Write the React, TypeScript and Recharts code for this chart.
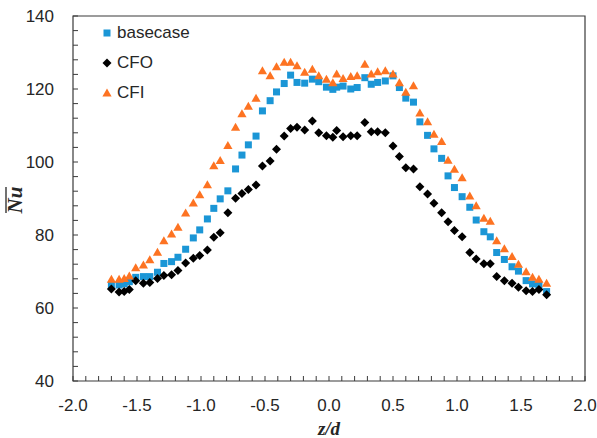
import React from "react";
import {
  ScatterChart,
  Scatter,
  XAxis,
  YAxis,
  ReferenceArea,
} from "recharts";

// z/d positions shared by the three series
const zValues = [
  -1.70, -1.64, -1.60, -1.56, -1.51, -1.45, -1.40, -1.34, -1.29, -1.23,
  -1.18, -1.12, -1.06, -1.01, -0.95, -0.90, -0.85, -0.79, -0.73, -0.68,
  -0.63, -0.57, -0.52, -0.46, -0.41, -0.35, -0.30, -0.25, -0.19, -0.13,
  -0.08, -0.02, 0.03, 0.06, 0.11, 0.17, 0.22, 0.28, 0.33, 0.38,
  0.44, 0.50, 0.55, 0.60, 0.66, 0.71, 0.77, 0.82, 0.88, 0.93,
  0.98, 1.04, 1.10, 1.15, 1.21, 1.26, 1.31, 1.37, 1.43, 1.48,
  1.54, 1.59, 1.64, 1.70,
];

const basecaseNu = [
  66.3, 66.3, 66.6, 67.2, 68.4, 68.6, 68.6, 69.8, 72.2, 72.7,
  73.9, 76.1, 79.2, 81.4, 84.4, 87.3, 89.9, 92.1, 98.1, 101.9,
  104.7, 107.1, 114.0, 116.8, 119.2, 121.5, 123.8, 121.8, 121.6, 122.7,
  122.0, 120.5, 119.9, 120.5, 120.8, 120.0, 120.4, 123.1, 121.3, 121.8,
  122.2, 123.6, 120.4, 117.5, 116.4, 111.0, 107.3, 103.6, 101.0, 96.2,
  93.0, 90.5, 87.6, 84.1, 80.9, 79.5, 75.2, 73.3, 71.3, 70.1,
  67.5, 66.6, 66.3, 64.5,
];

const cfoNu = [
  65.2, 64.4, 64.5, 65.1, 67.5, 66.8, 67.0, 68.1, 68.9, 69.1,
  70.3, 72.3, 73.6, 74.4, 75.9, 79.4, 80.6, 86.1, 90.1, 91.4,
  92.5, 93.7, 98.9, 100.3, 103.5, 107.1, 109.2, 109.5, 108.8, 111.2,
  108.0, 107.2, 106.8, 108.6, 106.9, 107.2, 107.2, 110.8, 108.3, 108.3,
  108.0, 104.4, 101.5, 98.4, 98.1, 93.2, 91.2, 88.7, 86.1, 83.6,
  81.2, 79.5, 75.2, 73.4, 72.1, 72.1, 68.6, 67.5, 66.8, 65.7,
  64.7, 64.5, 65.1, 63.6,
];

const cfiNu = [
  67.9, 67.9, 68.1, 68.8, 71.0, 71.8, 73.2, 75.3, 78.4, 80.3,
  82.1, 86.0, 88.8, 91.0, 93.8, 99.0, 100.4, 104.5, 109.5, 113.2,
  115.3, 117.5, 125.0, 123.6, 126.1, 127.3, 127.3, 126.4, 124.6, 125.4,
  123.6, 122.7, 121.7, 124.1, 122.9, 123.4, 123.6, 126.8, 124.1, 124.7,
  125.0, 124.1, 121.7, 119.1, 120.9, 113.4, 111.0, 107.6, 105.6, 100.5,
  98.0, 95.7, 90.7, 88.0, 84.6, 83.8, 78.4, 76.2, 74.1, 72.0,
  69.9, 68.4, 67.9, 66.8,
];

const seriesNames = ["basecase", "CFO", "CFI"];
const xMajorTicks = [-2.0, -1.5, -1.0, -0.5, 0.0, 0.5, 1.0, 1.5, 2.0];
const yMajorTicks = [40, 60, 80, 100, 120, 140];

const BLUE = "#1b96d6";
const ORANGE = "#fd7322";
const BLACK = "#000000";
const AXIS = "#3a3a3a";
const TEXT = "#262626";
const SANS = "'Liberation Sans', Arial, sans-serif";
const SERIF = "'Liberation Serif', 'Times New Roman', serif";

// minor ticks: 5 subdivisions between each major tick
const subdivide = (major: number[], parts: number) => {
  const out: number[] = [];
  for (let i = 0; i < major.length - 1; i++) {
    for (let k = 0; k < parts; k++) {
      out.push(Number((major[i] + ((major[i + 1] - major[i]) * k) / parts).toFixed(3)));
    }
  }
  out.push(major[major.length - 1]);
  return out;
};
const xTicks = subdivide(xMajorTicks, 5);
const yTicks = subdivide(yMajorTicks, 5);

const isMajor = (v: number, list: number[]) => list.some((m) => Math.abs(m - v) < 1e-6);

const toPoints = (values: number[]) => zValues.map((z, i) => ({ z, nu: values[i] }));
const basecaseData = toPoints(basecaseNu);
const cfoData = toPoints(cfoNu);
const cfiData = toPoints(cfiNu);

// marker shapes
const Square = ({ cx, cy }: any) => (
  <rect x={cx - 3.5} y={cy - 3.5} width={7} height={7} fill={BLUE} />
);
const Diamond = ({ cx, cy }: any) => (
  <polygon
    points={`${cx},${cy - 4.5} ${cx + 4.5},${cy} ${cx},${cy + 4.5} ${cx - 4.5},${cy}`}
    fill={BLACK}
  />
);
const Triangle = ({ cx, cy }: any) => (
  <polygon
    points={`${cx},${cy - 4.5} ${cx + 4.6},${cy + 3.5} ${cx - 4.6},${cy + 3.5}`}
    fill={ORANGE}
  />
);

const XTick = ({ x, y, payload }: any) => {
  const v = payload.value;
  return (
    <g>
      <line x1={x} x2={x} y1={y} y2={y - 5} stroke={AXIS} />
      {isMajor(v, xMajorTicks) && (
        <text x={x} y={y + 30} textAnchor="middle" fontFamily={SANS} fontSize={17} fill={TEXT}>
          {v.toFixed(1)}
        </text>
      )}
    </g>
  );
};

const YTick = ({ x, y, payload }: any) => {
  const v = payload.value;
  return (
    <g>
      <line x1={x} x2={x + 5} y1={y} y2={y} stroke={AXIS} />
      {isMajor(v, yMajorTicks) && (
        <text x={x - 19} y={y + 6} textAnchor="end" fontFamily={SANS} fontSize={17} fill={TEXT}>
          {v}
        </text>
      )}
    </g>
  );
};

const YTitle = () => (
  <g transform="translate(22, 200) rotate(-90)">
    <text
      x={0}
      y={0}
      textAnchor="middle"
      fontFamily={SERIF}
      fontStyle="italic"
      fontWeight="bold"
      fontSize={21}
      fill={TEXT}
    >
      Nu
    </text>
    <line x1={-13} x2={13} y1={-16} y2={-16} stroke={TEXT} strokeWidth={1.3} />
  </g>
);

const legendMarkers = [Square, Diamond, Triangle];

const Legend = () => (
  <div style={{ position: "absolute", left: 98, top: 18 }}>
    {seriesNames.map((name, i) => {
      const Marker = legendMarkers[i];
      return (
        <div
          key={name}
          style={{ display: "flex", alignItems: "center", height: 30, fontFamily: SANS, fontSize: 17, color: TEXT }}
        >
          <svg width={18} height={30} style={{ display: "block" }}>
            <Marker cx={9} cy={15} />
          </svg>
          <span style={{ marginLeft: 1 }}>{name}</span>
        </div>
      );
    })}
  </div>
);

export default function App() {
  return (
    <div style={{ position: "absolute", left: 0, top: 0, width: 597, height: 438, background: "#fff" }}>
      <ScatterChart width={597} height={438} margin={{ top: 16, right: 12, bottom: 0, left: 0 }}>
        <XAxis
          type="number"
          dataKey="z"
          domain={[-2, 2]}
          ticks={xTicks}
          interval={0}
          tickSize={0}
          tickMargin={0}
          tickLine={false}
          axisLine={false}
          tick={<XTick />}
          height={57}
          allowDataOverflow
        />
        <YAxis
          type="number"
          dataKey="nu"
          domain={[40, 140]}
          ticks={yTicks}
          interval={0}
          tickSize={0}
          tickMargin={0}
          tickLine={false}
          axisLine={false}
          tick={<YTick />}
          width={73}
          allowDataOverflow
        />
        <ReferenceArea x1={-2} x2={2} y1={40} y2={140} fill="none" stroke={AXIS} strokeWidth={1.2} ifOverflow="visible" />
        <Scatter name={seriesNames[0]} data={basecaseData} shape={<Square />} isAnimationActive={false} />
        <Scatter name={seriesNames[1]} data={cfoData} shape={<Diamond />} isAnimationActive={false} />
        <Scatter name={seriesNames[2]} data={cfiData} shape={<Triangle />} isAnimationActive={false} />
      </ScatterChart>
      <svg width={597} height={438} style={{ position: "absolute", left: 0, top: 0, pointerEvents: "none" }}>
        <YTitle />
        <text
          x={329}
          y={435}
          textAnchor="middle"
          fontFamily={SERIF}
          fontStyle="italic"
          fontWeight="bold"
          fontSize={19}
          fill={TEXT}
        >
          z/d
        </text>
      </svg>
      <Legend />
    </div>
  );
}
